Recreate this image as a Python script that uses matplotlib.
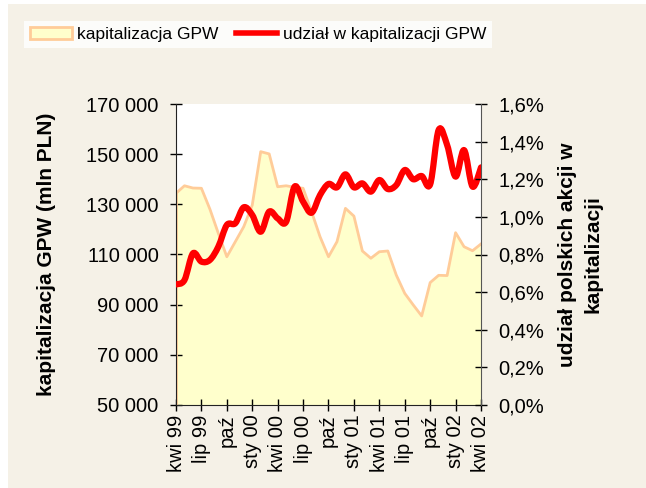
import numpy as np
import matplotlib
matplotlib.use("Agg")
import matplotlib.pyplot as plt
from matplotlib.path import Path
from matplotlib.patches import PathPatch, Patch, Rectangle
from matplotlib.lines import Line2D
from matplotlib.ticker import FuncFormatter, FixedLocator

plt.rcParams['font.family'] = ['Liberation Sans', 'DejaVu Sans']

# ---------------- Data (monthly, kwi 99 .. kwi 02) ----------------
kapitalizacja = [134400, 137400, 136500, 136400, 128100, 118400, 109100,
                 115100, 121100, 129700, 151000, 150100, 137000, 137400,
                 136800, 136400, 127100, 117100, 109100, 115100, 128400,
                 125300, 111400, 108500, 111100, 111400, 101800, 94500,
                 89900, 85500, 98800, 101700, 101600, 118700, 113100,
                 111500, 114200]

udzial = [0.641, 0.664, 0.806, 0.762, 0.771, 0.842, 0.957, 0.966, 1.051,
          1.010, 0.921, 1.028, 0.992, 0.974, 1.161, 1.081, 1.022, 1.116,
          1.175, 1.157, 1.226, 1.157, 1.178, 1.134, 1.196, 1.148, 1.169,
          1.249, 1.200, 1.217, 1.173, 1.462, 1.382, 1.214, 1.355, 1.161,
          1.263]

tick_labels = ["kwi 99", "lip 99", "paź", "sty 00", "kwi 00", "lip 00", "paź",
               "sty 01", "kwi 01", "lip 01", "paź", "sty 02", "kwi 02"]

BG = "#F5F1E7"
FILL = "#FFFFCC"
EDGE = "#FFCC99"
RED = "#FF0000"


def smooth_path(x, y):
    """Catmull-Rom style cubic Bezier path through the points (Excel smoothing)."""
    pts = np.column_stack([x, y]).astype(float)
    n = len(pts)
    verts = [pts[0]]
    codes = [Path.MOVETO]
    for i in range(n - 1):
        p0 = pts[max(i - 1, 0)]
        p1 = pts[i]
        p2 = pts[i + 1]
        p3 = pts[min(i + 2, n - 1)]
        verts += [p1 + (p2 - p0) / 6.0, p2 - (p3 - p1) / 6.0, p2]
        codes += [Path.CURVE4] * 3
    return Path(verts, codes)


fig = plt.figure(figsize=(6.46, 4.88), dpi=100)
fig.patch.set_facecolor("white")
fig.add_artist(Rectangle((8 / 646, 0), 1, 1 - 4 / 488, transform=fig.transFigure,
                         facecolor=BG, edgecolor="none", zorder=-10))

ax = fig.add_axes([176 / 646, 1 - 405 / 488, 305 / 646, 301 / 488])
ax.set_facecolor("white")
x = np.arange(len(kapitalizacja))

ax.fill_between(x, 50000, kapitalizacja, facecolor=FILL, edgecolor="none")
ax.plot(x, kapitalizacja, color=EDGE, lw=2.0)
ax.plot([0, 0], [50000, kapitalizacja[0]], color=EDGE, lw=2.0)
ax.set_xlim(0, len(kapitalizacja) - 1)
ax.set_ylim(50000, 170000)
ax.set_yticks(np.arange(50000, 170001, 20000))
ax.yaxis.set_major_formatter(FuncFormatter(lambda v, p: f"{int(v):,}".replace(",", " ")))
ax.set_ylabel("kapitalizacja GPW (mln PLN)", fontsize=15, fontweight="bold", labelpad=22)

ax.xaxis.set_major_locator(FixedLocator(np.arange(0, len(kapitalizacja), 3)))
ax.set_xticklabels(tick_labels, rotation=90, fontsize=14.5, va="top", ha="center")
ax.tick_params(axis="y", labelsize=14.5, direction="inout", length=9, width=1, pad=8)
ax.tick_params(axis="x", direction="inout", length=8, width=1, pad=3)

ax2 = ax.twinx()
ax2.set_ylim(0, 1.6)
ax2.set_yticks(np.arange(0, 1.61, 0.2))
ax2.yaxis.set_major_formatter(FuncFormatter(lambda v, p: f"{v:.1f}%".replace(".", ",")))
ax2.tick_params(axis="y", labelsize=14.5, direction="inout", length=9, width=1, pad=8)
ax2.add_patch(PathPatch(smooth_path(x, udzial), facecolor="none", edgecolor=RED,
                        lw=4.5, capstyle="round", joinstyle="round"))
ax2.set_ylabel("udział polskich akcji w\nkapitalizacji", fontsize=15, fontweight="bold",
               rotation=90, labelpad=10, linespacing=1.45)

for a in (ax, ax2):
    a.spines["top"].set_visible(False)
ax.spines["left"].set_color("#222222")
ax.spines["right"].set_visible(False)
ax.spines["bottom"].set_color("#222222")
ax2.spines["left"].set_visible(False)
ax2.spines["bottom"].set_visible(False)
ax2.spines["right"].set_color("#555555")

handles = [Patch(facecolor=FILL, edgecolor=EDGE, linewidth=2),
           Line2D([0], [0], color=RED, lw=4)]
leg = fig.legend(handles, ["kapitalizacja GPW", "udział w kapitalizacji GPW"],
                 loc="upper left", bbox_to_anchor=(24 / 646, 1 - 21 / 488), ncol=2,
                 fontsize=12.5, frameon=True, fancybox=False, handlelength=2.4,
                 handletextpad=0.3, columnspacing=1.0, borderpad=0.35, borderaxespad=0)
leg.get_frame().set_facecolor("white")
leg.get_frame().set_edgecolor("none")

fig.savefig("out.png", dpi=100, facecolor=fig.get_facecolor())
